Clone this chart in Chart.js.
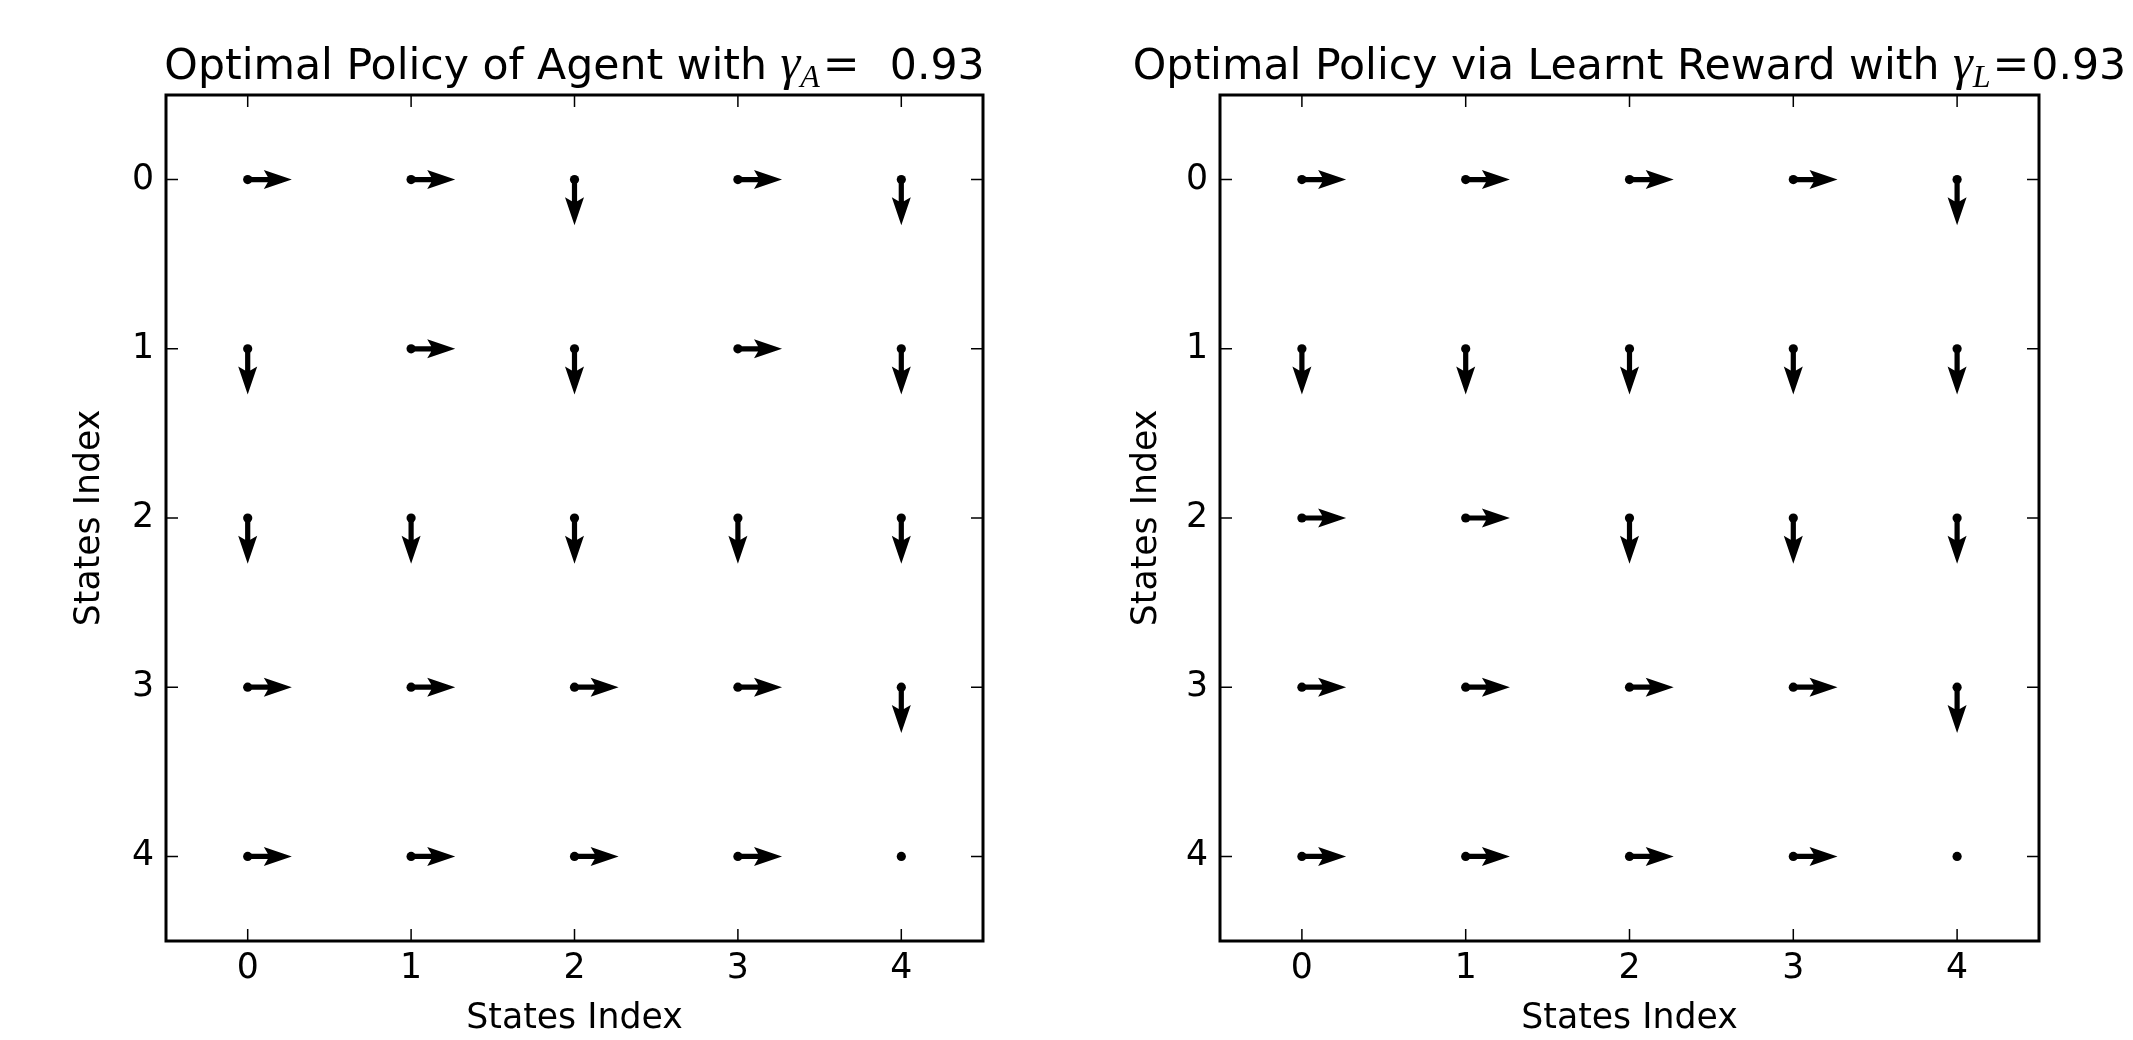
<!DOCTYPE html>
<html>
<head>
<meta charset="utf-8">
<script src="https://cdn.jsdelivr.net/npm/chart.js@4.4.0/dist/chart.umd.min.js"></script>
<style>
    body { margin: 0; background: #fff; width: 2133px; height: 1040px; overflow: hidden; position: relative; }
    canvas { position: absolute; top: 0; }
    #agent { left: 0; }
    #learnt { left: 1066px; }
</style>
</head>
<body>
<canvas id="agent" width="1066" height="1040"></canvas>
<canvas id="learnt" width="1067" height="1040"></canvas>
<script>
// grid of states, rows are the y index, columns the x index
const states = [0, 1, 2, 3, 4];
const tickLabels = ["0", "1", "2", "3", "4"];

// R = right, D = down, T = terminal (no move)
const agentPolicy = [
    ["R", "R", "D", "R", "D"],
    ["D", "R", "D", "R", "D"],
    ["D", "D", "D", "D", "D"],
    ["R", "R", "R", "R", "D"],
    ["R", "R", "R", "R", "T"]
];
const learntPolicy = [
    ["R", "R", "R", "R", "D"],
    ["D", "D", "D", "D", "D"],
    ["R", "R", "D", "D", "D"],
    ["R", "R", "R", "R", "D"],
    ["R", "R", "R", "R", "T"]
];
const gammaAgent = "0.93";
const gammaLearnt = "0.93";
const arrowLen = 0.27; // in state units

const SANS = "'DejaVu Sans', sans-serif";
const SERIF = "'Liberation Serif', 'DejaVu Serif', serif";

function policyToPoints(policy) {
    let pts = [];
    policy.forEach((row, r) => {
        row.forEach((a, c) => {
            pts.push({ x: states[c], y: states[r], u: a === "R" ? 1 : 0, v: a === "D" ? 1 : 0 });
        });
    });
    return pts;
}

// quiver arrows, tail at the state, tip found through the scales
const quiverPlugin = {
    id: "quiver",
    afterDatasetsDraw(chart) {
        const ctx = chart.ctx;
        const xs = chart.scales.x, ys = chart.scales.y;
        const headLen = 28, headAxis = 24, headHalf = 9.5, shaftHalf = 2.6;
        ctx.save();
        ctx.fillStyle = "#000";
        chart.data.datasets[0].data.forEach(p => {
            if (!p.u && !p.v) return;
            const x0 = xs.getPixelForValue(p.x), y0 = ys.getPixelForValue(p.y);
            const x1 = xs.getPixelForValue(p.x + p.u * arrowLen);
            const y1 = ys.getPixelForValue(p.y + p.v * arrowLen);
            const len = Math.hypot(x1 - x0, y1 - y0);
            const ang = Math.atan2(y1 - y0, x1 - x0);
            ctx.save();
            ctx.translate(x0, y0);
            ctx.rotate(ang);
            ctx.beginPath();
            ctx.moveTo(0, -shaftHalf);
            ctx.lineTo(len - headAxis, -shaftHalf);
            ctx.lineTo(len - headLen, -headHalf);
            ctx.lineTo(len, 0);
            ctx.lineTo(len - headLen, headHalf);
            ctx.lineTo(len - headAxis, shaftHalf);
            ctx.lineTo(0, shaftHalf);
            ctx.closePath();
            ctx.fill();
            ctx.restore();
        });
        ctx.restore();
    }
};

// matplotlib-like frame with inward ticks on all four sides
const framePlugin = {
    id: "frame",
    afterDraw(chart) {
        const ctx = chart.ctx;
        const a = chart.chartArea;
        const xs = chart.scales.x, ys = chart.scales.y;
        const tl = 12;
        ctx.save();
        ctx.strokeStyle = "#000";
        ctx.lineWidth = 1.5;
        ctx.beginPath();
        xs.ticks.forEach(t => {
            const px = xs.getPixelForValue(t.value);
            ctx.moveTo(px, a.bottom); ctx.lineTo(px, a.bottom - tl);
            ctx.moveTo(px, a.top); ctx.lineTo(px, a.top + tl);
        });
        ys.ticks.forEach(t => {
            const py = ys.getPixelForValue(t.value);
            ctx.moveTo(a.left, py); ctx.lineTo(a.left + tl, py);
            ctx.moveTo(a.right, py); ctx.lineTo(a.right - tl, py);
        });
        ctx.stroke();
        ctx.lineWidth = 3;
        ctx.strokeRect(a.left, a.top, a.right - a.left, a.bottom - a.top);
        ctx.restore();
    }
};

// title made of sans text and a small math part
const mathTitlePlugin = {
    id: "mathTitle",
    afterDraw(chart, args, opts) {
        const ctx = chart.ctx;
        const a = chart.chartArea;
        const parts = opts.parts;
        ctx.save();
        ctx.fillStyle = "#000";
        ctx.textBaseline = "alphabetic";
        let total = 0;
        parts.forEach(p => {
            ctx.font = p.font;
            p.w = ctx.measureText(p.text).width + (p.gap || 0);
            total += p.w;
        });
        let x = (a.left + a.right) / 2 - total / 2;
        const base = opts.baseline;
        parts.forEach(p => {
            ctx.font = p.font;
            ctx.textAlign = "left";
            ctx.fillText(p.text, x + (p.gap || 0) / 2, base + (p.dy || 0));
            x += p.w;
        });
        ctx.restore();
    }
};

function makeChart(id, policy, padLeft, yWidth, padRight, parts) {
    const tickFont = { family: SANS, size: 34.7 };
    return new Chart(document.getElementById(id), {
        type: "scatter",
        data: {
            datasets: [{
                data: policyToPoints(policy),
                pointRadius: 4.6,
                pointHoverRadius: 4.6,
                backgroundColor: "#000",
                borderColor: "#000",
                borderWidth: 0
            }]
        },
        options: {
            responsive: false,
            animation: false,
            devicePixelRatio: 1,
            layout: { padding: { top: 95, left: padLeft, right: padRight, bottom: 0 } },
            plugins: {
                legend: { display: false },
                tooltip: { enabled: false },
                mathTitle: { parts: parts, baseline: 79 }
            },
            scales: {
                x: {
                    type: "linear",
                    min: -0.5,
                    max: 4.5,
                    afterBuildTicks: s => { s.ticks = states.map(v => ({ value: v })); },
                    afterFit: s => { s.height = 99; },
                    ticks: {
                        color: "#000",
                        font: tickFont,
                        padding: 7,
                        maxRotation: 0,
                        callback: (v) => tickLabels[states.indexOf(v)]
                    },
                    grid: { display: true, drawOnChartArea: false, drawTicks: false },
                    border: { display: false },
                    title: { display: true, text: "States Index", color: "#000", font: tickFont, padding: 0 }
                },
                y: {
                    type: "linear",
                    reverse: true,
                    min: -0.5,
                    max: 4.5,
                    afterBuildTicks: s => { s.ticks = states.map(v => ({ value: v })); },
                    afterFit: s => { s.width = yWidth; },
                    ticks: {
                        color: "#000",
                        font: tickFont,
                        padding: 12,
                        callback: (v) => tickLabels[states.indexOf(v)]
                    },
                    grid: { display: true, drawOnChartArea: false, drawTicks: false },
                    border: { display: false },
                    title: { display: true, text: "States Index", color: "#000", font: tickFont, padding: 0 }
                }
            }
        },
        plugins: [quiverPlugin, framePlugin, mathTitlePlugin]
    });
}

const sansTitle = "42.6px " + SANS;
const gammaFont = "italic 50px " + SERIF;
const subFont = "italic 32px " + SERIF;
const eqFont = "44px 'DejaVu Serif', serif";

makeChart("agent", agentPolicy, 69, 97, 83, [
    { text: "Optimal Policy of Agent with ", font: sansTitle },
    { text: "γ", font: gammaFont },
    { text: "A", font: subFont, dy: 8 },
    { text: "=", font: eqFont, gap: 6 },
    { text: "  " + gammaAgent, font: sansTitle }
]);

makeChart("learnt", learntPolicy, 60, 94, 94, [
    { text: "Optimal Policy via Learnt Reward with ", font: sansTitle },
    { text: "γ", font: gammaFont },
    { text: "L", font: subFont, dy: 8 },
    { text: "=", font: eqFont, gap: 4 },
    { text: gammaLearnt, font: sansTitle }
]);
</script>
</body>
</html>
